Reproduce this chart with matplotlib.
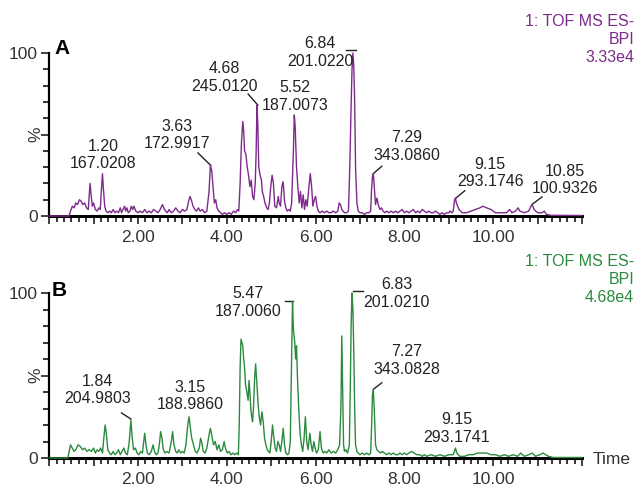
import matplotlib
matplotlib.use("Agg")
import matplotlib.pyplot as plt
from matplotlib.ticker import MultipleLocator, FuncFormatter

plt.rcParams['font.family'] = ['Liberation Sans', 'DejaVu Sans']

# chromatogram A (time in min, relative intensity %)
timeA = [0.00, 0.45, 0.48, 0.52, 0.56, 0.60, 0.64, 0.68, 0.72, 0.76, 0.80, 0.84, 0.88, 0.90, 0.92, 0.94, 0.97,
         1.00, 1.04, 1.08, 1.12, 1.15, 1.18, 1.20, 1.22, 1.25, 1.28, 1.32, 1.36, 1.40, 1.44, 1.48, 1.52, 1.56,
         1.60, 1.63, 1.66, 1.70, 1.72, 1.75, 1.78, 1.82, 1.85, 1.88, 1.91, 1.95, 2.00, 2.05, 2.10, 2.15, 2.20,
         2.25, 2.30, 2.35, 2.40, 2.45, 2.50, 2.55, 2.58, 2.62, 2.66, 2.70, 2.75, 2.80, 2.85, 2.90, 2.95, 3.00,
         3.05, 3.10, 3.14, 3.17, 3.20, 3.24, 3.28, 3.32, 3.36, 3.40, 3.45, 3.50, 3.55, 3.60, 3.63, 3.66, 3.69,
         3.72, 3.75, 3.78, 3.82, 3.86, 3.90, 3.95, 4.00, 4.05, 4.10, 4.15, 4.20, 4.24, 4.27, 4.30, 4.33, 4.36,
         4.38, 4.40, 4.43, 4.46, 4.49, 4.52, 4.55, 4.58, 4.61, 4.64, 4.66, 4.68, 4.70, 4.72, 4.75, 4.78, 4.80,
         4.83, 4.86, 4.90, 4.93, 4.96, 4.99, 5.02, 5.05, 5.08, 5.12, 5.16, 5.18, 5.21, 5.24, 5.27, 5.30, 5.33,
         5.36, 5.40, 5.43, 5.46, 5.50, 5.52, 5.54, 5.57, 5.60, 5.63, 5.66, 5.69, 5.72, 5.75, 5.78, 5.81, 5.84,
         5.88, 5.91, 5.94, 5.97, 6.00, 6.03, 6.06, 6.10, 6.15, 6.20, 6.25, 6.30, 6.35, 6.40, 6.45, 6.50, 6.53,
         6.56, 6.59, 6.62, 6.65, 6.70, 6.74, 6.77, 6.80, 6.82, 6.84, 6.86, 6.88, 6.90, 6.93, 6.96, 7.00, 7.05,
         7.10, 7.15, 7.20, 7.24, 7.26, 7.28, 7.30, 7.32, 7.35, 7.38, 7.42, 7.45, 7.48, 7.52, 7.56, 7.60, 7.65,
         7.70, 7.75, 7.80, 7.85, 7.90, 7.95, 8.00, 8.05, 8.10, 8.15, 8.20, 8.25, 8.30, 8.35, 8.40, 8.45, 8.50,
         8.55, 8.60, 8.65, 8.70, 8.75, 8.80, 8.85, 8.90, 8.95, 9.00, 9.03, 9.07, 9.10, 9.13, 9.15, 9.17, 9.20,
         9.23, 9.30, 9.40, 9.50, 9.60, 9.70, 9.77, 9.85, 9.95, 10.05, 10.20, 10.30, 10.37, 10.42, 10.50, 10.56,
         10.60, 10.70, 10.80, 10.85, 10.88, 10.92, 11.00, 11.10, 11.15, 11.20, 11.30, 12.00]
intensA = [0, 0, 3, 6, 5, 8, 7, 10, 9, 7, 8, 5, 4, 12, 20, 14, 6,
           8, 4, 3, 5, 4, 18, 26, 17, 6, 3, 2, 3, 2, 4, 2, 3, 2,
           5, 2, 4, 6, 3, 5, 2, 3, 6, 4, 6, 3, 2, 3, 2, 4, 2,
           3, 2, 4, 3, 2, 4, 7, 5, 3, 2, 4, 2, 3, 5, 3, 2, 4,
           3, 4, 9, 12, 10, 6, 4, 3, 5, 3, 4, 2, 3, 15, 31, 28, 18,
           8, 10, 5, 3, 2, 1, 2, 1, 2, 1, 3, 2, 4, 3, 20, 45, 58,
           52, 40, 38, 30, 25, 18, 22, 12, 10, 20, 38, 68, 55, 30, 25, 22, 15,
           12, 8, 5, 4, 8, 18, 25, 20, 6, 5, 12, 8, 6, 18, 21, 9, 5,
           3, 4, 3, 8, 40, 62, 55, 30, 18, 8, 15, 5, 13, 4, 10, 6, 15,
           26, 18, 6, 10, 12, 6, 3, 2, 3, 2, 3, 2, 2, 3, 2, 3, 8,
           7, 4, 3, 2, 2, 3, 30, 68, 90, 100, 92, 70, 30, 8, 3, 2, 2,
           1, 2, 2, 3, 16, 24, 26, 18, 7, 11, 6, 4, 5, 3, 2, 3, 2,
           3, 2, 3, 2, 3, 4, 2, 3, 2, 3, 4, 2, 3, 2, 4, 3, 2,
           3, 2, 2, 3, 2, 1, 2, 1, 2, 2, 3, 2, 3, 10, 11, 8, 6,
           4, 2, 2, 3, 4, 5, 6, 5, 4, 2, 2, 2, 4, 2, 3, 5,
           3, 2, 3, 6, 7, 4, 2, 2, 3, 1, 0.4, 0.3]

# chromatogram B
timeB = [0.00, 0.42, 0.45, 0.48, 0.52, 0.56, 0.60, 0.65, 0.70, 0.75, 0.80, 0.85, 0.90, 0.95, 1.00, 1.04,
         1.08, 1.12, 1.16, 1.20, 1.23, 1.26, 1.29, 1.32, 1.36, 1.40, 1.44, 1.48, 1.52, 1.56, 1.60, 1.64, 1.68,
         1.72, 1.76, 1.80, 1.84, 1.87, 1.90, 1.94, 1.98, 2.02, 2.06, 2.10, 2.13, 2.15, 2.18, 2.21, 2.25, 2.30,
         2.34, 2.37, 2.41, 2.45, 2.48, 2.51, 2.54, 2.57, 2.61, 2.65, 2.70, 2.75, 2.78, 2.81, 2.85, 2.88, 2.92,
         2.96, 3.00, 3.04, 3.08, 3.12, 3.15, 3.18, 3.21, 3.25, 3.29, 3.33, 3.38, 3.41, 3.44, 3.47, 3.51, 3.55,
         3.60, 3.63, 3.66, 3.70, 3.74, 3.78, 3.82, 3.86, 3.90, 3.94, 3.97, 4.01, 4.05, 4.09, 4.14, 4.18, 4.22,
         4.26, 4.28, 4.30, 4.32, 4.34, 4.36, 4.38, 4.40, 4.42, 4.45, 4.48, 4.50, 4.52, 4.54, 4.56, 4.58, 4.60,
         4.63, 4.65, 4.67, 4.70, 4.73, 4.76, 4.79, 4.82, 4.85, 4.88, 4.91, 4.94, 4.97, 5.00, 5.03, 5.06, 5.09,
         5.12, 5.15, 5.18, 5.21, 5.24, 5.27, 5.30, 5.33, 5.37, 5.40, 5.43, 5.46, 5.48, 5.50, 5.53, 5.55, 5.57,
         5.59, 5.62, 5.65, 5.68, 5.71, 5.74, 5.77, 5.80, 5.83, 5.87, 5.90, 5.93, 5.96, 5.99, 6.02, 6.06, 6.10,
         6.13, 6.17, 6.21, 6.25, 6.30, 6.35, 6.40, 6.45, 6.50, 6.54, 6.57, 6.59, 6.61, 6.63, 6.65, 6.68, 6.72,
         6.76, 6.78, 6.80, 6.82, 6.84, 6.86, 6.88, 6.90, 6.93, 6.96, 7.00, 7.05, 7.10, 7.15, 7.20, 7.24, 7.26,
         7.28, 7.30, 7.32, 7.35, 7.38, 7.42, 7.46, 7.50, 7.55, 7.60, 7.65, 7.70, 7.75, 7.80, 7.85, 7.90, 7.95,
         8.00, 8.05, 8.10, 8.16, 8.22, 8.28, 8.35, 8.40, 8.45, 8.50, 8.60, 8.70, 8.80, 8.90, 9.00, 9.10, 9.15,
         9.18, 9.21, 9.25, 9.35, 9.45, 9.55, 9.65, 9.75, 9.85, 9.95, 10.05, 10.15, 10.25, 10.35, 10.45, 10.55,
         10.62, 10.70, 10.80, 10.88, 10.95, 11.05, 11.12, 11.18, 11.25, 11.35, 12.00]
intensB = [0, 0, 4, 8, 6, 4, 5, 8, 7, 5, 6, 4, 5, 4, 6, 3,
           5, 4, 6, 3, 12, 20, 14, 5, 3, 2, 4, 2, 3, 5, 2, 4, 6,
           3, 2, 9, 23, 12, 5, 6, 3, 2, 4, 3, 10, 15, 8, 3, 2, 4,
           8, 4, 2, 3, 8, 16, 12, 5, 3, 4, 3, 10, 16, 8, 4, 3, 5,
           3, 4, 3, 8, 20, 25, 18, 12, 8, 4, 3, 6, 12, 9, 4, 3, 6,
           14, 18, 14, 8, 10, 5, 8, 4, 5, 10, 6, 3, 4, 2, 3, 2, 3,
           2, 20, 55, 72, 70, 68, 60, 55, 45, 40, 35, 47, 40, 30, 25, 22, 30,
           50, 57, 48, 35, 25, 20, 28, 22, 12, 8, 5, 4, 3, 10, 20, 12, 6,
           4, 10, 8, 4, 10, 18, 8, 3, 2, 3, 10, 60, 95, 78, 70, 60, 68,
           50, 30, 15, 8, 4, 12, 25, 10, 5, 15, 8, 4, 10, 6, 3, 5, 16,
           6, 3, 4, 3, 5, 3, 4, 3, 5, 8, 30, 74, 40, 8, 4, 5, 3,
           8, 40, 80, 100, 90, 65, 30, 8, 4, 3, 2, 3, 2, 3, 2, 3, 18,
           38, 41, 30, 8, 5, 4, 3, 4, 3, 2, 3, 2, 3, 2, 2, 3, 2,
           3, 2, 3, 4, 3, 2, 2, 1, 2, 1, 2, 1, 2, 1, 2, 2, 6,
           3, 2, 1, 1, 2, 2, 3, 3, 3, 2, 2, 1, 2, 1, 2, 1,
           3, 1, 2, 3, 1, 2, 3, 2, 1, 0.3, 0.3]

# peak labels: (text x, text y, label, leader x0, y0, x1, y1)
labelsA = [(1.21, 37.4, "1.20\n167.0208", None),
           (2.88, 49.7, "3.63\n172.9917", (3.35, 38.7, 3.64, 31.0)),
           (3.94, 85.0, "4.68\n245.0120", (4.48, 74.8, 4.70, 68.0)),
           (5.54, 73.3, "5.52\n187.0073", None),
           (6.10, 100.3, "6.84\n201.0220", (6.68, 101.8, 6.91, 101.8)),
           (8.06, 42.6, "7.29\n343.0860", (7.30, 26.0, 7.49, 30.5)),
           (9.93, 26.4, "9.15\n293.1746", (9.16, 11.0, 9.36, 15.5)),
           (11.62, 22.0, "10.85\n100.9326", (10.87, 7.0, 11.10, 11.7))]
labelsB = [(1.09, 41.2, "1.84\n204.9803", (1.63, 27.3, 1.84, 23.6)),
           (3.17, 37.4, "3.15\n188.9860", None),
           (4.48, 94.2, "5.47\n187.0060", (5.31, 95.3, 5.49, 95.3)),
           (7.83, 99.7, "6.83\n201.0210", (6.84, 101.4, 7.06, 101.4)),
           (8.05, 59.2, "7.27\n343.0828", (7.30, 41.6, 7.49, 45.6)),
           (9.18, 17.9, "9.15\n293.1741", None)]

purple = "#7d2b8b"
green = "#2b8a3e"
textc = "#222222"

fig = plt.figure(figsize=(6.38, 4.88), dpi=100)
axA = fig.add_axes([49.2 / 638, 1 - 216 / 488, 532.8 / 638, 163 / 488])
axB = fig.add_axes([49.2 / 638, 1 - 458 / 488, 532.8 / 638, 165 / 488])


def style(ax):
    ax.set_xlim(0, 12)
    ax.set_ylim(0, 100)
    for s in ["top", "right"]:
        ax.spines[s].set_visible(False)
    ax.spines["bottom"].set_linewidth(2.2)
    ax.spines["left"].set_linewidth(1.6)
    ax.xaxis.set_major_locator(MultipleLocator(1))
    ax.xaxis.set_minor_locator(MultipleLocator(1 / 6))
    ax.xaxis.set_major_formatter(FuncFormatter(
        lambda v, p: "%.2f" % v if round(v) % 2 == 0 and 0 < v < 11.5 else ""))
    ax.set_yticks([0, 50, 100])
    ax.set_yticklabels(["0", "", "100"])
    ax.yaxis.set_minor_locator(MultipleLocator(10))
    ax.tick_params(axis="both", which="major", length=6, width=1.3, labelsize=12.5, colors="#333333", pad=2)
    ax.tick_params(axis="both", which="minor", length=4, width=1.1)
    ax.tick_params(axis="x", pad=4)
    ax.text(-0.12, 50, "%", rotation=90, ha="right", va="center", fontsize=12.5, color="#333333")


for ax, t, y, col, labs in [(axA, timeA, intensA, purple, labelsA), (axB, timeB, intensB, green, labelsB)]:
    style(ax)
    ax.plot(t, y, color=col, lw=1.0, clip_on=False, zorder=3)
    for tx, ty, s, lead in labs:
        ax.text(tx, ty, s, ha="center", va="center", fontsize=11.5, color=textc, linespacing=1.2)
        if lead is not None:
            ax.plot([lead[0], lead[2]], [lead[1], lead[3]], color=textc, lw=1.0, clip_on=False)

axA.text(0.29, 103, "A", fontsize=15, fontweight="bold", ha="center", va="center")
axB.text(0.22, 101.8, "B", fontsize=15, fontweight="bold", ha="center", va="center")

fig.text(634 / 638, 1 - 40 / 488, "1: TOF MS ES-\nBPI\n3.33e4", ha="right", va="center",
         fontsize=11.5, color=purple, linespacing=1.25)
fig.text(634 / 638, 1 - 280 / 488, "1: TOF MS ES-\nBPI\n4.68e4", ha="right", va="center",
         fontsize=11.5, color=green, linespacing=1.25)
fig.text(593 / 638, 1 - 460 / 488, "Time", ha="left", va="center", fontsize=12.5, color="#333333")

plt.savefig("out.png", dpi=100)
